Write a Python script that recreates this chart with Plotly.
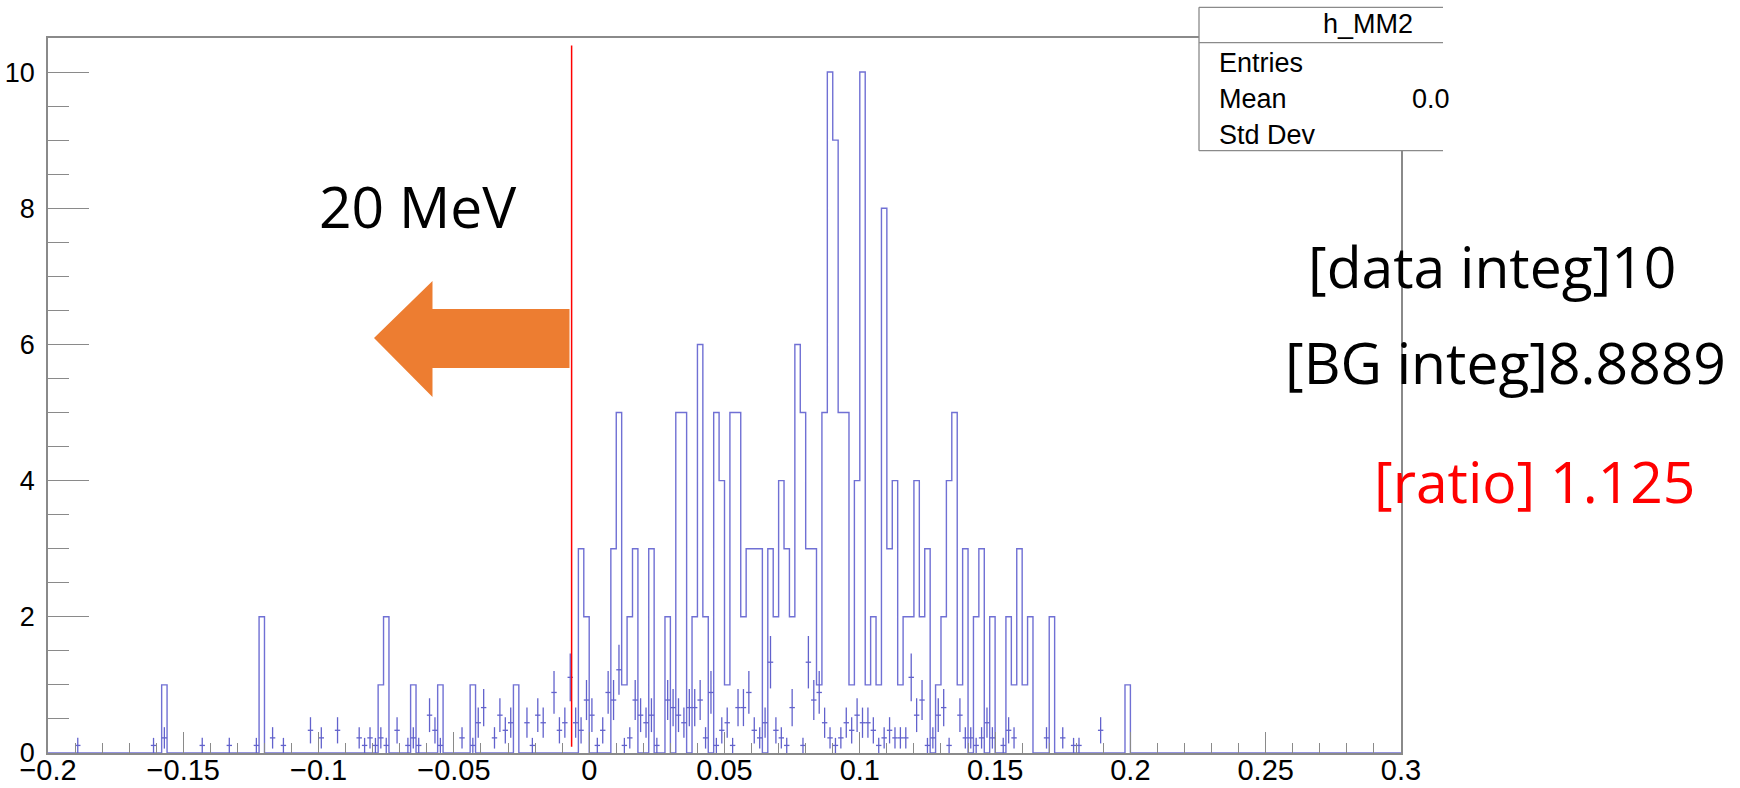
import numpy as np
import plotly.graph_objects as go

# ---------------- data ----------------
x_min, x_max, n_bins = -0.2, 0.3, 250

# signal histogram (h_MM2): bin index -> entries
sig_bin = [21, 39, 61, 62, 67, 72, 78, 86,
           98, 99, 104, 105, 106, 107, 108, 111, 114, 116, 117, 119, 120, 121,
           123, 124, 125, 126, 127, 128, 129, 130, 131,
           133, 134, 135, 136, 137, 138, 139, 140, 141, 142, 143, 144, 145, 146, 147,
           148, 149, 150, 151, 152, 153, 154, 155, 156, 157, 158, 159, 160, 161, 162,
           164, 165, 166, 167, 168, 169, 171, 172, 174,
           177, 178, 179, 180, 181, 185, 199]
sig_count = [1, 2, 1, 2, 1, 1, 1, 1,
             3, 2, 3, 5, 1, 2, 3, 3, 2, 5, 5, 2, 6, 2,
             5, 4, 1, 5, 5, 2, 3, 3, 3,
             3, 2, 4, 3, 2, 6, 5, 3, 3, 1, 5, 10, 9, 5, 5,
             1, 4, 10, 1, 2, 1, 8, 3, 4, 1, 2, 2, 4, 2, 3,
             1, 2, 4, 5, 1, 3, 2, 3, 2,
             2, 1, 3, 1, 2, 2, 1]

# background histogram: bin index -> raw entries (drawn scaled, with errors)
bg_bin = [5, 19, 21, 28, 33, 38, 41, 43, 48, 50, 53, 57, 58, 59, 60, 61, 62, 64, 66, 67,
          68, 70, 71, 72, 76, 78, 79, 80, 82, 83, 84, 85, 88, 89, 90, 91, 93, 94, 95, 96,
          97, 98, 99, 100, 101, 102, 103, 104, 105, 106, 107, 108, 109, 110, 111, 112, 114, 115, 116, 117,
          118, 119, 120, 121, 122, 123, 124, 125, 126, 127, 128, 129, 130, 131, 132, 133, 134, 135, 136, 137,
          139, 140, 141, 142, 143, 144, 145, 146, 147, 148, 149, 150, 151, 152, 153, 154, 155, 156, 157, 158,
          159, 160, 161, 162, 163, 164, 165, 166, 168, 169, 170, 171, 172, 173, 174, 176, 177, 178, 184, 187,
          189, 190, 194]
bg_count = [1, 1, 2, 1, 1, 1, 2, 1, 3, 2, 3, 2, 1, 2, 1, 2, 1, 3, 1, 2,
            1, 5, 3, 1, 2, 1, 4, 6, 2, 5, 3, 4, 4, 1, 5, 4, 8, 3, 4, 10,
            4, 3, 7, 5, 1, 3, 8, 7, 11, 1, 2, 7, 5, 4, 5, 1, 7, 6, 5, 4,
            6, 6, 7, 2, 8, 1, 3, 4, 1, 6, 6, 8, 3, 2, 4, 12, 3, 2, 1, 6,
            1, 12, 7, 8, 4, 2, 1, 2, 4, 3, 5, 4, 4, 3, 1, 2, 3, 2, 2, 2,
            10, 5, 7, 1, 2, 5, 6, 1, 5, 2, 2, 1, 2, 4, 2, 1, 3, 2, 2, 2,
            1, 1, 3]
bg_scale = 1.0 / 9.0

cut_x = -0.0065
cut_y = [0.09, 10.39]

stat_title = "h_MM2"
stat_labels = ["Entries", "Mean", "Std Dev"]
stat_mean = "0.0"
note_cut = "20 MeV"
note_data = "[data integ]10"
note_bg = "[BG integ]8.8889"
note_ratio = "[ratio] 1.125"

# ---------------- build ----------------
bw = (x_max - x_min) / n_bins
edges = x_min + bw * np.arange(n_bins + 1)
counts = np.zeros(n_bins)
for k, c in zip(sig_bin, sig_count):
    counts[k] = c
hist_y = np.append(counts, counts[-1])

bg_bin_a = np.array(bg_bin)
bg_n = np.array(bg_count, dtype=float)
bg_x = x_min + (bg_bin_a + 0.5) * bw
bg_y = bg_n * bg_scale
bg_err = np.sqrt(bg_n) * bg_scale

W, H = 1740, 788
L, R, T, B = 48, 339, 38, 35
PW, PH = W - L - R, H - T - B


def px(xp):
    return (xp - L) / PW


def py(yp):
    return (H - B - yp) / PH


hist_col = "#7070d4"
err_col = "#6262cc"
gray = "#8a8a8a"

fig = go.Figure()
fig.add_trace(go.Scatter(
    x=edges, y=hist_y, mode="lines",
    line=dict(shape="hv", color=hist_col, width=1.4),
    hoverinfo="skip", showlegend=False))
fig.add_trace(go.Scatter(
    x=bg_x, y=bg_y, mode="markers",
    marker=dict(size=0.1, color=err_col),
    error_y=dict(type="data", array=bg_err, visible=True, width=0,
                 thickness=1.3, color=err_col),
    error_x=dict(type="constant", value=bw / 2, visible=True, width=0,
                 thickness=1.3, color=err_col),
    hoverinfo="skip", showlegend=False))

shapes = []
# cut line
shapes.append(dict(type="line", xref="x", yref="y", x0=cut_x, x1=cut_x,
                   y0=cut_y[0], y1=cut_y[1], line=dict(color="#ff0000", width=1.5),
                   layer="above"))
# orange arrow (pixel layout)
arrow_pts = [(374, 338), (432.5, 281), (432.5, 309), (569.5, 309),
             (569.5, 368), (432.5, 368), (432.5, 397)]
path = "M " + " L ".join(f"{px(a):.5f},{py(b):.5f}" for a, b in arrow_pts) + " Z"
shapes.append(dict(type="path", xref="paper", yref="paper", path=path,
                   fillcolor="#ed7d31", line=dict(width=0), layer="above"))
# stat box
bx0, bx1, by0, by1, bsep = 1199, 1443, 7.3, 150.7, 42.7
shapes.append(dict(type="rect", xref="paper", yref="paper",
                   x0=px(bx0), x1=px(bx1), y0=py(by1), y1=py(by0),
                   fillcolor="white", line=dict(width=0), layer="above"))
for (xa, ya, xb, yb) in [(bx0, by0, bx1, by0), (bx0, by0, bx0, by1),
                         (bx0, by1, bx1, by1), (bx0, bsep, bx1, bsep)]:
    shapes.append(dict(type="line", xref="paper", yref="paper",
                       x0=px(xa), y0=py(ya), x1=px(xb), y1=py(yb),
                       line=dict(color=gray, width=1.3), layer="above"))

ann = []
sfont = dict(family="Liberation Sans", size=27, color="black")
ann.append(dict(text=stat_title, x=px(1368), y=py(24), xanchor="center", yanchor="middle",
                font=sfont))
for lab, yy in zip(stat_labels, [62.5, 99, 135]):
    ann.append(dict(text=lab, x=px(1217), y=py(yy), xanchor="left", yanchor="middle",
                    font=sfont))
ann.append(dict(text=stat_mean, x=px(1410), y=py(99), xanchor="left", yanchor="middle",
                font=sfont))
bfont = dict(family="Open Sans", size=57, color="black")
ann.append(dict(text=note_cut, x=px(417.5), y=py(206), xanchor="center", yanchor="middle",
                font=bfont))
ann.append(dict(text=note_data, x=px(1491.5), y=py(266), xanchor="center", yanchor="middle",
                font=bfont))
ann.append(dict(text=note_bg, x=px(1505), y=py(362), xanchor="center", yanchor="middle",
                font=bfont))
ann.append(dict(text=note_ratio, x=px(1534), y=py(481), xanchor="center", yanchor="middle",
                font=dict(family="Open Sans", size=57, color="#ff0000")))
for a in ann:
    a.update(xref="paper", yref="paper", showarrow=False)

tfont = dict(family="Liberation Sans", size=27, color="black")
xfont = dict(family="Liberation Sans", size=29, color="black")
fig.update_layout(
    width=W, height=H, template="none",
    margin=dict(l=L, r=R, t=T, b=B, pad=0),
    paper_bgcolor="white", plot_bgcolor="white",
    showlegend=False, shapes=shapes, annotations=ann,
    xaxis=dict(range=[x_min, x_max], tick0=x_min, dtick=0.05, ticks="inside",
               ticklen=21, tickwidth=1.3, tickcolor=gray, showline=True, linecolor=gray,
               linewidth=1.5, mirror=True, showgrid=False, zeroline=False,
               tickfont=xfont, automargin=False, ticklabelstandoff=-10,
               minor=dict(dtick=0.01, tick0=x_min, ticks="inside", ticklen=10,
                          tickwidth=1.3, tickcolor=gray, showgrid=False)),
    yaxis=dict(range=[0, 10.5], tick0=0, dtick=2, ticks="inside",
               ticklen=41, tickwidth=1.3, tickcolor=gray, showline=True, linecolor=gray,
               linewidth=1.5, mirror=True, showgrid=False, zeroline=False,
               tickfont=tfont, automargin=False, ticklabelstandoff=6,
               minor=dict(dtick=0.5, tick0=0, ticks="inside", ticklen=21,
                          tickwidth=1.3, tickcolor=gray, showgrid=False)),
)

fig.write_html("out.html")
